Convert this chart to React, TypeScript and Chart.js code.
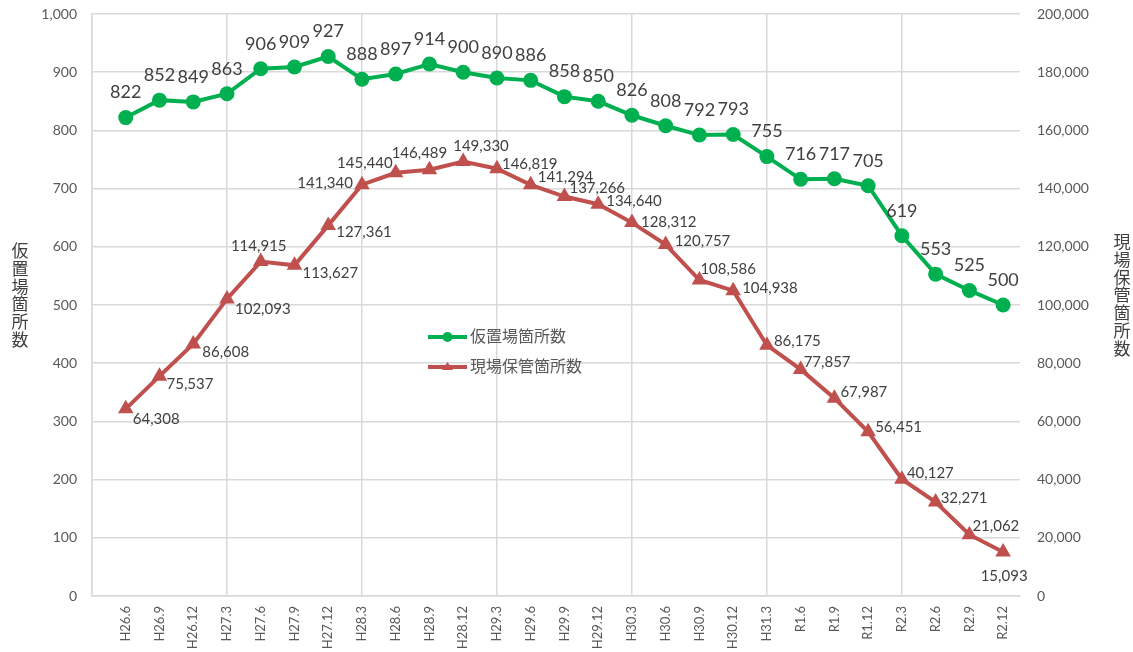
import { useEffect, useRef } from 'react';
import { Chart, registerables } from 'chart.js';

Chart.register(...registerables);

const categories = [
  'H26.6', 'H26.9', 'H26.12', 'H27.3', 'H27.6', 'H27.9', 'H27.12', 'H28.3', 'H28.6',
  'H28.9', 'H28.12', 'H29.3', 'H29.6', 'H29.9', 'H29.12', 'H30.3', 'H30.6', 'H30.9',
  'H30.12', 'H31.3', 'R1.6', 'R1.9', 'R1.12', 'R2.3', 'R2.6', 'R2.9', 'R2.12',
];

const karioki = [
  822, 852, 849, 863, 906, 909, 927, 888, 897, 914, 900, 890, 886, 858, 850, 826, 808,
  792, 793, 755, 716, 717, 705, 619, 553, 525, 500,
];

const genba = [
  64308, 75537, 86608, 102093, 114915, 113627, 127361, 141340, 145440, 146489, 149330,
  146819, 141294, 137266, 134640, 128312, 120757, 108586, 104938, 86175, 77857, 67987,
  56451, 40127, 32271, 21062, 15093,
];

const leftTicks = [0, 100, 200, 300, 400, 500, 600, 700, 800, 900, 1000];
const rightTicks = [0, 20000, 40000, 60000, 80000, 100000, 120000, 140000, 160000, 180000, 200000];

const seriesNames = ['仮置場箇所数', '現場保管箇所数'];

// label placement nudges for the red series: [align, dx, dy]
const genbaLabelNudge: [CanvasTextAlign, number, number][] = [
  ['left', 7, 10], ['left', 7, 8], ['left', 9, 8], ['left', 8, 10], ['center', -2, -15],
  ['left', 8, 8], ['left', 8, 7], ['right', -9, -2], ['right', -3, -10], ['center', -10, -17],
  ['left', -10, -15], ['left', 5, -5], ['left', 7, -8], ['left', 5, -8], ['left', 8, -3],
  ['left', 9, 0], ['left', 9, -3], ['left', 1, -11], ['left', 9, -2], ['left', 7, -4],
  ['left', 3, -7], ['left', 6, -6], ['left', 7, -5], ['left', 5, -6], ['left', 5, -4],
  ['left', 3, -9], ['center', 1, 24],
];

const GREEN = '#00b050';
const RED = '#c0504d';
const GRID = '#d9d9d9';
const TICK = '#595959';
const TEXT = '#404040';
const FONT = "Lato, 'Noto Sans CJK JP', sans-serif";

const fmt = (v: number) => v.toLocaleString('en-US');

const labelPlugin = {
  id: 'valueLabels',
  afterDatasetsDraw(chart: any) {
    const ctx = chart.ctx as CanvasRenderingContext2D;
    ctx.save();
    ctx.fillStyle = TEXT;
    ctx.textBaseline = 'middle';
    const g = chart.getDatasetMeta(0);
    ctx.font = `18px ${FONT}`;
    ctx.textAlign = 'center';
    g.data.forEach((el: any, i: number) => {
      ctx.fillText(fmt(karioki[i]), el.x, el.y - 25);
    });
    const r = chart.getDatasetMeta(1);
    ctx.font = `15px ${FONT}`;
    r.data.forEach((el: any, i: number) => {
      const [a, dx, dy] = genbaLabelNudge[i];
      ctx.textAlign = a;
      ctx.fillText(fmt(genba[i]), el.x + dx, el.y + dy);
    });
    ctx.restore();
  },
};

const decorPlugin = {
  id: 'decor',
  afterDraw(chart: any) {
    const ctx = chart.ctx as CanvasRenderingContext2D;
    const area = chart.chartArea;
    ctx.save();
    // legend
    const lx = 428;
    const ly = [337, 367];
    const colors = [GREEN, RED];
    ctx.font = `16px ${FONT}`;
    ctx.textBaseline = 'middle';
    ctx.textAlign = 'left';
    for (let k = 0; k < 2; k++) {
      ctx.strokeStyle = colors[k];
      ctx.fillStyle = colors[k];
      ctx.lineWidth = 4;
      ctx.beginPath();
      ctx.moveTo(lx, ly[k]);
      ctx.lineTo(lx + 39, ly[k]);
      ctx.stroke();
      const cx = lx + 19.5;
      if (k === 0) {
        ctx.beginPath();
        ctx.arc(cx, ly[k], 5, 0, Math.PI * 2);
        ctx.fill();
      } else {
        ctx.beginPath();
        ctx.moveTo(cx, ly[k] - 5);
        ctx.lineTo(cx + 5.5, ly[k] + 3);
        ctx.lineTo(cx - 5.5, ly[k] + 3);
        ctx.closePath();
        ctx.fill();
      }
      ctx.fillStyle = TICK;
      ctx.fillText(seriesNames[k], lx + 42, ly[k]);
    }
    // vertical axis titles (stacked characters)
    ctx.fillStyle = TEXT;
    ctx.font = `17px ${FONT}`;
    ctx.textAlign = 'center';
    const mid = (area.top + area.bottom) / 2 - 9;
    const step = 17.8;
    const drawStack = (text: string, x: number) => {
      const chars = Array.from(text);
      const start = mid - ((chars.length - 1) * step) / 2;
      chars.forEach((c, i) => ctx.fillText(c, x, start + i * step));
    };
    drawStack(seriesNames[0], 20);
    drawStack(seriesNames[1], 1122);
    ctx.restore();
  },
};

export default function App() {
  const ref = useRef<HTMLCanvasElement>(null);
  useEffect(() => {
    if (!ref.current) return;
    const chart = new Chart(ref.current, {
      type: 'line',
      data: {
        datasets: [
          {
            label: seriesNames[0],
            data: karioki.map((v, i) => ({ x: i, y: v })),
            borderColor: GREEN,
            backgroundColor: GREEN,
            borderWidth: 4,
            pointRadius: 7.5,
            pointBorderWidth: 0,
            pointStyle: 'circle',
            yAxisID: 'y',
            clip: false,
          },
          {
            label: seriesNames[1],
            data: genba.map((v, i) => ({ x: i, y: v })),
            borderColor: RED,
            backgroundColor: RED,
            borderWidth: 4,
            pointRadius: 9,
            pointBorderWidth: 0,
            pointStyle: 'triangle',
            yAxisID: 'y1',
            clip: false,
          },
        ],
      },
      options: {
        responsive: false,
        animation: false,
        layout: { autoPadding: false, padding: { top: 14, left: 0, right: 0, bottom: 0 } },
        plugins: { legend: { display: false }, tooltip: { enabled: false } },
        scales: {
          x: {
            type: 'linear',
            min: -1,
            max: 26.5,
            afterBuildTicks: (s: any) => {
              s.ticks = [-1, ...categories.map((_, i) => i)].map((v) => ({ value: v }));
            },
            afterFit: (s: any) => {
              s.height = 56;
              s.paddingLeft = 0;
              s.paddingRight = 0;
            },
            grid: {
              color: (c: any) => {
                const v = c.tick ? c.tick.value : null;
                if (v === -1) return GRID;
                if (v != null && v >= 0 && categories[v] && categories[v].endsWith('.3')) return GRID;
                return 'rgba(0,0,0,0)';
              },
              lineWidth: 1.5,
              drawTicks: false,
            },
            border: { display: true, color: GRID, width: 1.5 },
            ticks: {
              autoSkip: false,
              minRotation: 90,
              maxRotation: 90,
              padding: 10,
              color: TICK,
              font: { family: FONT, size: 13 },
              callback: (v: any) => (v >= 0 && Number.isInteger(v) ? categories[v] : ''),
            },
          },
          y: {
            position: 'left',
            min: 0,
            max: 1000,
            afterBuildTicks: (s: any) => {
              s.ticks = leftTicks.map((v) => ({ value: v }));
            },
            afterFit: (s: any) => {
              s.width = 92;
              s.paddingTop = 0;
              s.paddingBottom = 0;
            },
            grid: { color: GRID, lineWidth: 1.5, drawTicks: false },
            border: { display: true, color: GRID, width: 1.5 },
            ticks: {
              padding: 15,
              color: TICK,
              font: { family: FONT, size: 14 },
              callback: (v: any) => fmt(Number(v)),
            },
          },
          y1: {
            position: 'right',
            min: 0,
            max: 200000,
            afterBuildTicks: (s: any) => {
              s.ticks = rightTicks.map((v) => ({ value: v }));
            },
            afterFit: (s: any) => {
              s.width = 113;
              s.paddingTop = 0;
              s.paddingBottom = 0;
            },
            grid: { drawOnChartArea: false, drawTicks: false },
            border: { display: false },
            ticks: {
              padding: 17,
              color: TICK,
              font: { family: FONT, size: 14 },
              callback: (v: any) => fmt(Number(v)),
            },
          },
        },
      },
      plugins: [labelPlugin, decorPlugin],
    } as any);
    return () => chart.destroy();
  }, []);
  return (
    <canvas
      ref={ref}
      width={1133}
      height={652}
      style={{ position: 'absolute', left: 0, top: 0, display: 'block' }}
    />
  );
}
